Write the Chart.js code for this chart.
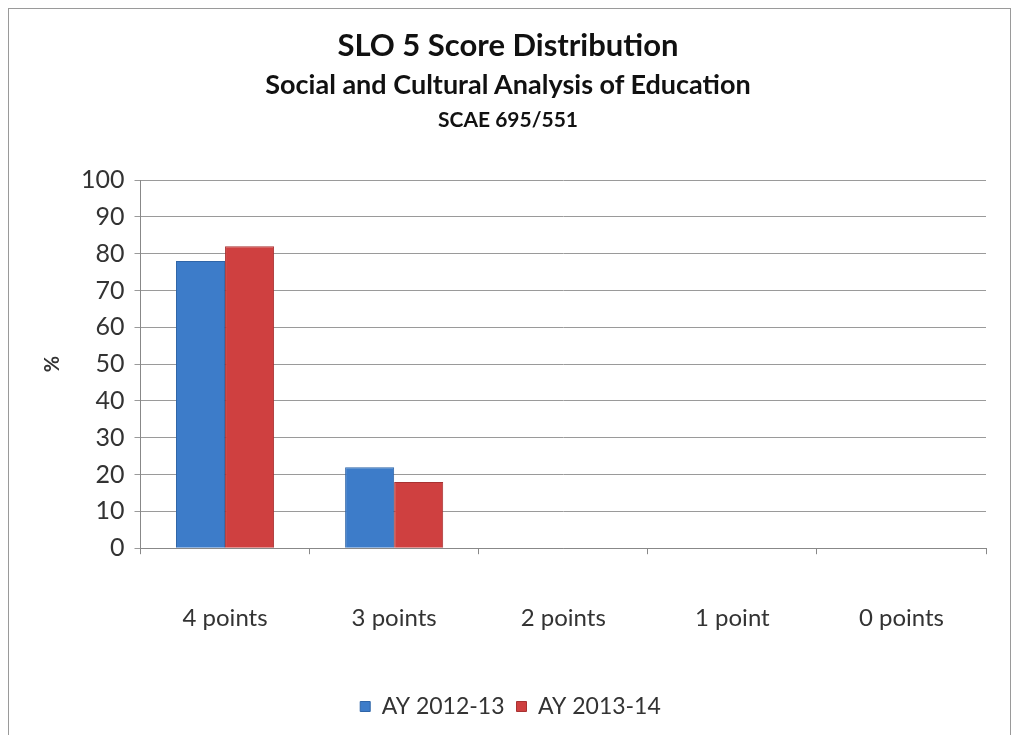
<!DOCTYPE html>
<html>
<head>
<meta charset="utf-8">
<script src="https://cdn.jsdelivr.net/npm/chart.js@4"></script>
<style>
  body { margin: 0; background: #fff; }
  #wrap { position: relative; width: 1016px; height: 735px; font-family: Lato, "Open Sans", sans-serif; }
  #frame { position: absolute; left: 8px; top: 8px; width: 1003px; height: 740px; border: 1px solid #9a9a9a; box-sizing: border-box; }
  .ttl { position: absolute; left: 0; width: 1016px; text-align: center; font-weight: bold; color: #111; }
  canvas { position: absolute; left: 0; top: 0; }
</style>
</head>
<body>
<div id="wrap">
  <div id="frame"></div>
  <canvas id="myChart" width="1016" height="735"></canvas>
  <div class="ttl" style="top:25px;font-size:31px;">SLO 5 Score Distribution</div>
  <div class="ttl" style="top:67px;font-size:27px;">Social and Cultural Analysis of Education</div>
  <div class="ttl" style="top:106px;font-size:21px;">SCAE 695/551</div>
</div>
<script>
// chart data
var categories = ['4 points', '3 points', '2 points', '1 point', '0 points'];
var ay1213 = [78, 22, 0, 0, 0];
var ay1314 = [82, 18, 0, 0, 0];
var yTicks = [0, 10, 20, 30, 40, 50, 60, 70, 80, 90, 100];

Chart.defaults.font.family = 'Lato, "Open Sans", sans-serif';
Chart.defaults.color = '#333';

var ctx = document.getElementById('myChart');
var chart = new Chart(ctx, {
    type: 'bar',
    data: {
        labels: categories,
        datasets: [
          {
            label: 'AY 2012-13',
            backgroundColor: '#3d7cc9',
            borderColor: '#2f65a8',
            borderWidth: 1,
            data: ay1213
          },
          {
            label: 'AY 2013-14',
            backgroundColor: '#cf4040',
            borderColor: '#a83232',
            borderWidth: 1,
            data: ay1314
          }
      ]
    },
    options: {
        responsive: false,
        animation: false,
        layout: { padding: { top: 180, right: 30, left: 35, bottom: 7 } },
        datasets: { bar: { categoryPercentage: 0.58, barPercentage: 1.0 } },
        plugins: {
            legend: {
                position: 'bottom',
                labels: { boxWidth: 10, boxHeight: 10, font: { size: 23 }, padding: 12, color: '#333' }
            },
            tooltip: { enabled: false }
        },
        scales: {
            x: {
                grid: { display: true, drawOnChartArea: false, offset: true, tickLength: 6, color: '#888' },
                border: { color: '#888' },
                ticks: { font: { size: 24 }, padding: 50, color: '#333' }
            },
            y: {
                min: 0,
                max: 100,
                afterBuildTicks: function(axis) {
                    axis.ticks = yTicks.map(function(v){ return { value: v }; });
                },
                grid: { color: '#9a9a9a', tickLength: 6 },
                border: { color: '#888' },
                ticks: { font: { size: 25 }, padding: 10, color: '#333' },
                title: { display: true, text: '%', font: { size: 20, weight: 'bold' }, padding: 6 }
            }
        }
    }
});
</script>
</body>
</html>
